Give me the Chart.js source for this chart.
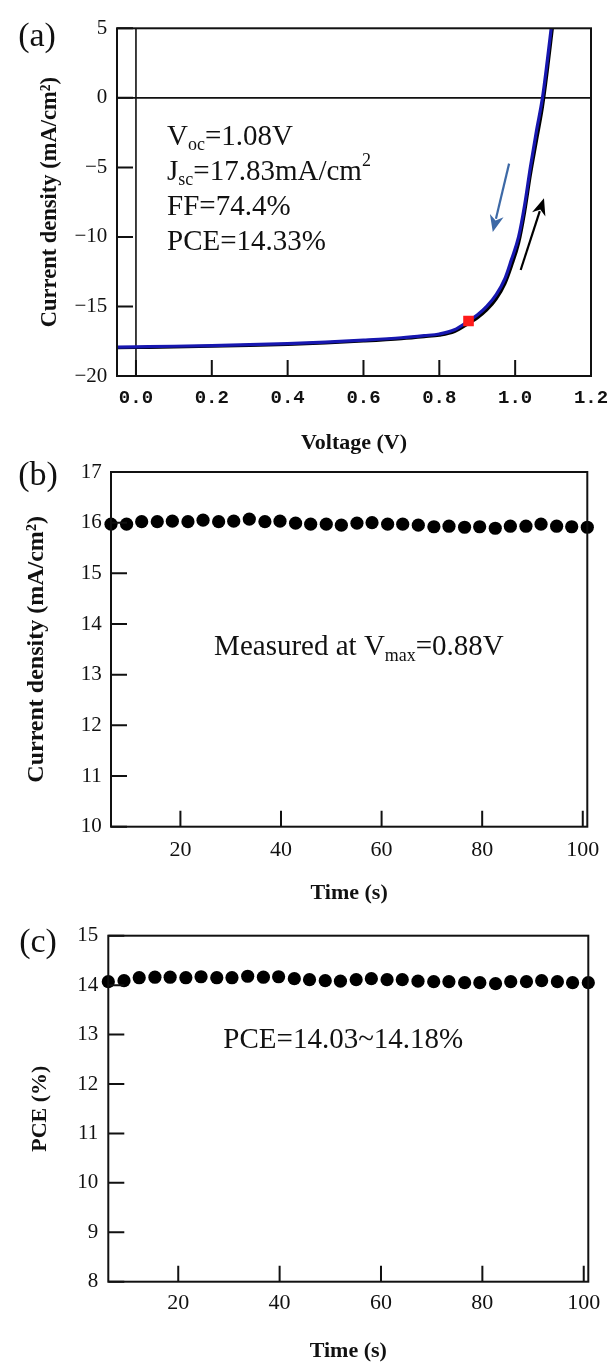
<!DOCTYPE html>
<html><head><meta charset="utf-8">
<script src="https://cdn.jsdelivr.net/npm/chart.js@4.4.1/dist/chart.umd.min.js"></script>
<style>
html,body{margin:0;padding:0;background:#fff;width:608px;height:1365px;overflow:hidden}
canvas.p{position:absolute;left:0}
</style></head><body>
<canvas id="ca" class="p" style="top:0px" width="608" height="460"></canvas>
<canvas id="cb" class="p" style="top:460px" width="608" height="460"></canvas>
<canvas id="cc" class="p" style="top:920px" width="608" height="445"></canvas>
<script>
// ---------- data ----------
// (a) J-V curves
const voltage  = [-0.05, 0.00, 0.10, 0.20, 0.30, 0.40, 0.50, 0.60, 0.70, 0.76, 0.80, 0.84, 0.877, 0.90, 0.925, 0.95, 0.973, 0.99, 1.009, 1.025, 1.040, 1.056, 1.072, 1.084, 1.095, 1.105];
const jReverse = [-17.92,-17.90,-17.86,-17.81,-17.75,-17.67,-17.56,-17.42,-17.25,-17.10,-16.98,-16.68,-16.05,-15.62,-15.00,-14.15,-13.00,-11.65,-10.00,-7.70,-5.00,-2.40,0.00,2.50,5.00,7.30];
const jForward = [-17.97,-17.95,-17.91,-17.86,-17.80,-17.72,-17.62,-17.48,-17.31,-17.17,-17.06,-16.80,-16.22,-15.82,-15.25,-14.45,-13.35,-12.10,-10.45,-8.20,-5.55,-3.10,-0.65,1.80,4.30,6.60];
const pmaxV = [0.877];
const pmaxJ = [-16.05];
// (b),(c) steady-state output
const time    = [6.2, 9.3, 12.3, 15.4, 18.4, 21.5, 24.5, 27.6, 30.6, 33.7, 36.8, 39.8, 42.9, 45.9, 49.0, 52.0, 55.1, 58.1, 61.2, 64.2, 67.3, 70.4, 73.4, 76.5, 79.5, 82.6, 85.6, 88.7, 91.7, 94.8, 97.8, 100.9];
const jTime   = [15.97,15.97,16.02,16.02,16.03,16.02,16.05,16.02,16.03,16.07,16.02,16.03,15.99,15.97,15.97,15.95,15.99,16.00,15.97,15.97,15.95,15.92,15.93,15.91,15.92,15.89,15.93,15.93,15.97,15.93,15.92,15.91];
const pceTime = [14.07,14.09,14.15,14.16,14.16,14.15,14.17,14.15,14.15,14.18,14.16,14.17,14.13,14.11,14.09,14.08,14.11,14.13,14.11,14.11,14.08,14.07,14.07,14.05,14.05,14.03,14.07,14.07,14.09,14.07,14.05,14.05];
// axis ranges / tick steps
const jvX = {min:-0.05, max:1.2, step:0.2};
const jvY = {min:-20, max:5, step:5};
const tX  = {min:6.2, max:100.9, step:20};
const bY  = {min:10, max:17, step:1};
const cY  = {min:8, max:15, step:1};

const SERIF = "'Liberation Serif', 'Times New Roman', serif";
const INK = '#111';

function pts(xs, ys){ return xs.map((v,i)=>({x:v, y:ys[i]})); }
function minusFmt(v){ return v < 0 ? '\u2212' + Math.abs(v) : String(v); }

function drawRich(ctx, x, y, parts, size){
  let cx = x;
  for (const p of parts){
    const s = (p.sub || p.sup) ? size*0.62 : size;
    ctx.font = s + 'px ' + SERIF;
    const dy = p.sub ? size*0.28 : (p.sup ? -size*0.38 : 0);
    ctx.fillText(p.t, cx, y + dy);
    cx += ctx.measureText(p.t).width;
  }
}

const deco = {
  id: 'deco',
  beforeDatasetsDraw(chart, args, o){
    const {ctx, chartArea:a, scales:{x, y}} = chart;
    if (!o || !o.zeroLines) return;
    ctx.save();
    ctx.strokeStyle = INK; ctx.lineWidth = 1.6;
    const px = x.getPixelForValue(0), py = y.getPixelForValue(0);
    ctx.beginPath();
    ctx.moveTo(px, a.top); ctx.lineTo(px, a.bottom);
    ctx.moveTo(a.left, py); ctx.lineTo(a.right, py);
    ctx.stroke();
    ctx.restore();
  },
  afterDatasetsDraw(chart, args, o){
    if (!o) return;
    const {ctx, chartArea:a, scales:{x, y}} = chart;
    ctx.save();
    ctx.strokeStyle = INK; ctx.lineWidth = 2;
    ctx.strokeRect(a.left, a.top, a.right - a.left, a.bottom - a.top);
    const L = 16;
    ctx.beginPath();
    x.ticks.forEach(t => { const p = x.getPixelForValue(t.value); ctx.moveTo(p, a.bottom); ctx.lineTo(p, a.bottom - L); });
    y.ticks.forEach(t => { const p = y.getPixelForValue(t.value); ctx.moveTo(a.left, p); ctx.lineTo(a.left + L, p); });
    ctx.stroke();
    (o.arrows || []).forEach(ar => {
      const x1 = x.getPixelForValue(ar.from[0]), y1 = y.getPixelForValue(ar.from[1]);
      const x2 = x.getPixelForValue(ar.to[0]),   y2 = y.getPixelForValue(ar.to[1]);
      const ang = Math.atan2(y2 - y1, x2 - x1), hl = 17, hw = 7;
      ctx.strokeStyle = ar.color; ctx.fillStyle = ar.color; ctx.lineWidth = 2.2;
      ctx.beginPath(); ctx.moveTo(x1, y1);
      ctx.lineTo(x2 - hl*0.8*Math.cos(ang), y2 - hl*0.8*Math.sin(ang)); ctx.stroke();
      ctx.beginPath(); ctx.moveTo(x2, y2);
      ctx.lineTo(x2 - hl*Math.cos(ang) + hw*Math.sin(ang), y2 - hl*Math.sin(ang) - hw*Math.cos(ang));
      ctx.lineTo(x2 - hl*0.7*Math.cos(ang), y2 - hl*0.7*Math.sin(ang));
      ctx.lineTo(x2 - hl*Math.cos(ang) - hw*Math.sin(ang), y2 - hl*Math.sin(ang) + hw*Math.cos(ang));
      ctx.closePath(); ctx.fill();
    });
    ctx.fillStyle = INK; ctx.textBaseline = 'middle'; ctx.textAlign = 'left';
    (o.texts || []).forEach(t => drawRich(ctx, x.getPixelForValue(t.x), y.getPixelForValue(t.y), t.parts, o.textSize || 29));
    if (o.label){
      ctx.font = '34px ' + SERIF; ctx.textAlign = 'center';
      ctx.fillText(o.label.text, o.label.x, o.label.y);
    }
    ctx.restore();
  }
};
Chart.register(deco);

function baseScales(cfg){
  return {
    x: {
      type: 'linear', min: cfg.x.min, max: cfg.x.max,
      afterFit: s => { s.height = cfg.xh; s.paddingLeft = 0; s.paddingRight = 0; },
      grid: {display:false, drawTicks:false}, border: {display:false},
      ticks: {stepSize: cfg.x.step, includeBounds:false, autoSkip:false, maxRotation:0,
              padding: cfg.xtp, color: INK, font: cfg.xfont, callback: cfg.xfmt},
      title: {display:true, text: cfg.xtitle, color: INK,
              font:{family:SERIF, size:22, weight:'bold'}, padding:{top:0, bottom:cfg.xtb}}
    },
    y: {
      type: 'linear', min: cfg.y.min, max: cfg.y.max,
      afterFit: s => { s.width = cfg.yw; s.paddingTop = 0; s.paddingBottom = 0; },
      grid: {display:false, drawTicks:false}, border: {display:false},
      ticks: {stepSize: cfg.y.step, includeBounds:false, autoSkip:false,
              padding: cfg.ytp, color: INK, font:{family:SERIF, size:21}, callback: minusFmt},
      title: {display:true, text: cfg.ytitle, color: INK,
              font:{family:SERIF, size:cfg.yts || 22, weight:'bold'}, padding:{top:cfg.ytt, bottom:0}}
    }
  };
}
const common = {responsive:false, animation:false, events:[]};

// ---------- (a) ----------
new Chart(document.getElementById('ca'), {
  type: 'scatter',
  data: { datasets: [
    {label:'Pmax', data: pts(pmaxV, pmaxJ), pointStyle:'rect', pointRadius:7.5, backgroundColor:'#ff1a1a', borderWidth:0, order:0},
    {label:'Reverse', data: pts(voltage, jReverse), showLine:true, borderColor:'#1717b0', borderWidth:3.2, pointRadius:0, cubicInterpolationMode:'monotone', order:1},
    {label:'Forward', data: pts(voltage, jForward), showLine:true, borderColor:'#000000', borderWidth:3.2, pointRadius:0, cubicInterpolationMode:'monotone', order:2}
  ]},
  options: Object.assign({}, common, {
    layout: {padding:{top:28.3, right:17, left:0, bottom:0}, autoPadding:false},
    plugins: {legend:{display:false}, tooltip:{enabled:false},
      deco: {
        zeroLines: true,
        label: {text:'(a)', x:37, y:37},
        textSize: 29,
        texts: [
          {x:0.082, y:-2.81, parts:[{t:'V'},{t:'oc', sub:true},{t:'=1.08V'}]},
          {x:0.082, y:-5.33, parts:[{t:'J'},{t:'sc', sub:true},{t:'=17.83mA/cm'},{t:'2', sup:true}]},
          {x:0.082, y:-7.85, parts:[{t:'FF=74.4%'}]},
          {x:0.082, y:-10.36, parts:[{t:'PCE=14.33%'}]}
        ],
        arrows: [
          {from:[0.984,-4.73], to:[0.941,-9.65], color:'#3d69a6'},
          {from:[1.0145,-12.38], to:[1.076,-7.22], color:'#000000'}
        ]
      }
    },
    scales: baseScales({
      x: jvX, y: jvY, xh: 84, yw: 117, xtp: 11, ytp: 9.7, xtb: 3.8, ytt: 36.3, yts: 22.5,
      xfont: {family:"'Liberation Mono', monospace", size:19, weight:'bold'},
      xfmt: v => v.toFixed(1),
      xtitle: 'Voltage (V)', ytitle: 'Current density (mA/cm\u00b2)'
    })
  })
});

// ---------- (b) ----------
new Chart(document.getElementById('cb'), {
  type: 'scatter',
  data: { datasets: [
    {label:'J at Vmax', data: pts(time, jTime), pointStyle:'circle', pointRadius:6.6, backgroundColor:'#000', borderWidth:0, clip:false}
  ]},
  options: Object.assign({}, common, {
    layout: {padding:{top:12, right:20.7, left:0, bottom:0}, autoPadding:false},
    plugins: {legend:{display:false}, tooltip:{enabled:false},
      deco: {
        label: {text:'(b)', x:38, y:16},
        textSize: 29,
        texts: [ {x:26.7, y:13.53, parts:[{t:'Measured at V'},{t:'max', sub:true},{t:'=0.88V'}]} ]
      }
    },
    scales: baseScales({
      x: tX, y: bY, xh: 93.3, yw: 111, xtp: 10.7, ytp: 9.3, xtb: 13.8, ytt: 22.3, yts: 24,
      xfont: {family:SERIF, size:22}, xfmt: v => String(v),
      xtitle: 'Time (s)', ytitle: 'Current density (mA/cm\u00b2)'
    })
  })
});

// ---------- (c) ----------
new Chart(document.getElementById('cc'), {
  type: 'scatter',
  data: { datasets: [
    {label:'PCE', data: pts(time, pceTime), pointStyle:'circle', pointRadius:6.6, backgroundColor:'#000', borderWidth:0, clip:false}
  ]},
  options: Object.assign({}, common, {
    layout: {padding:{top:15.7, right:19.7, left:0, bottom:0}, autoPadding:false},
    plugins: {legend:{display:false}, tooltip:{enabled:false},
      deco: {
        label: {text:'(c)', x:38, y:23},
        textSize: 29,
        texts: [ {x:28.9, y:12.89, parts:[{t:'PCE=14.03~14.18%'}]} ]
      }
    },
    scales: baseScales({
      x: tX, y: cY, xh: 83.3, yw: 108.3, xtp: 8.7, ytp: 10, xtb: 0.1, ytt: 27.3,
      xfont: {family:SERIF, size:22}, xfmt: v => String(v),
      xtitle: 'Time (s)', ytitle: 'PCE (%)'
    })
  })
});
</script>
</body></html>
